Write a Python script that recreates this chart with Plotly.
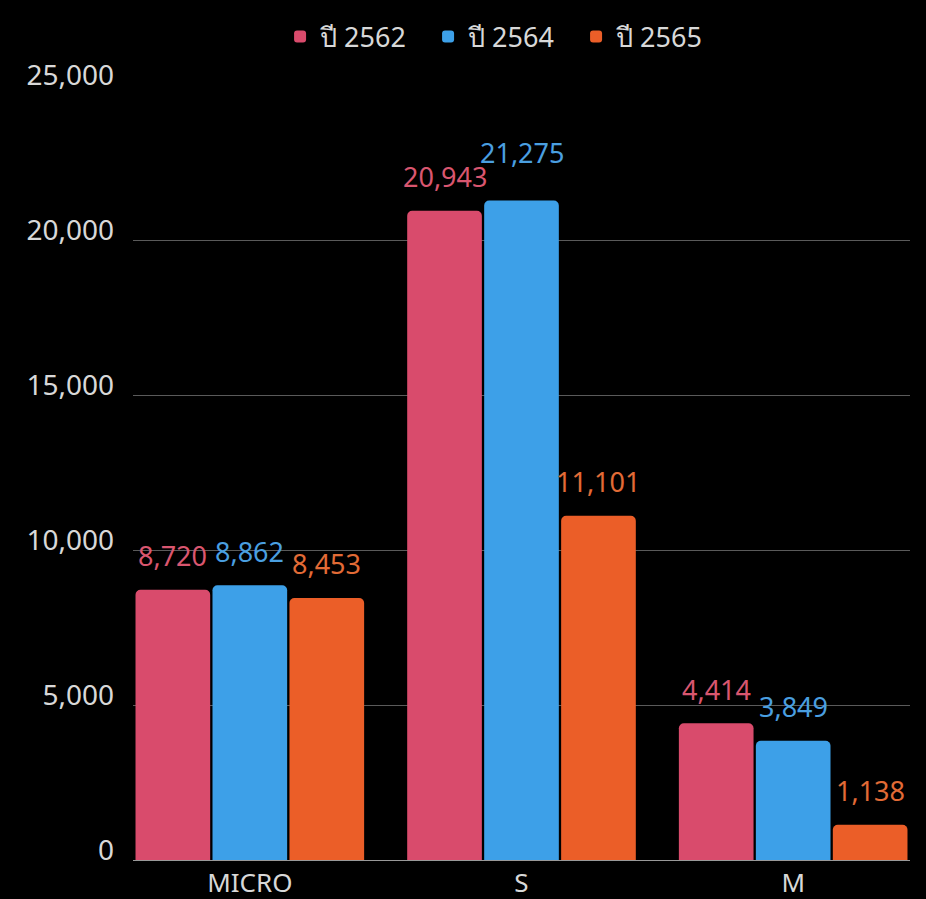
import plotly.graph_objects as go

categories = ["MICRO", "S", "M"]
series_names = ["ปี 2562", "ปี 2564", "ปี 2565"]
values_2562 = [8720, 20943, 4414]
values_2564 = [8862, 21275, 3849]
values_2565 = [8453, 11101, 1138]
tick_vals = [0, 5000, 10000, 15000, 20000, 25000]
tick_text = ["0", "5,000", "10,000", "15,000", "20,000", "25,000"]

bar_colors = ["#D94B6C", "#3DA0E8", "#EB5E28"]
label_colors = ["#D9566F", "#4A9FE0", "#E26B36"]
series = [values_2562, values_2564, values_2565]

FONT = "Noto Sans"
fig = go.Figure()
for name, vals, col in zip(series_names, series, bar_colors):
    fig.add_trace(go.Bar(
        x=categories, y=vals, name=name,
        marker=dict(color=col, line=dict(width=0)),
    ))

# Value labels above bars (a few nudged up to avoid collisions, as in the reference)
plot_left, plot_right = 133, 910
xr = [-0.43, 2.43]
px_per_unit = (plot_right - plot_left) / (xr[1] - xr[0])
bargap = 0.15
bar_w = (1 - bargap) / 3
label_nudge = {(1, "S"): 14}
for i, (vals, lc) in enumerate(zip(series, label_colors)):
    off = (i - 1) * bar_w * px_per_unit
    for c, v in zip(categories, vals):
        fig.add_annotation(
            x=c, y=v, text=f"{v:,}", showarrow=False,
            xshift=off, yshift=34 + label_nudge.get((i, c), 0), yanchor="middle",
            font=dict(family=FONT, size=27, color=lc),
        )

fig.update_layout(
    width=926, height=899,
    paper_bgcolor="black", plot_bgcolor="black",
    margin=dict(l=133, r=16, t=83, b=39),
    barmode="group", bargap=bargap, bargroupgap=0.03,
    barcornerradius=5,
    font=dict(family=FONT, color="#d8d8d8"),
    legend=dict(orientation="h", x=0.475, xanchor="center", y=1.062, yanchor="middle",
                font=dict(family=FONT, size=27, color="#d8d8d8"),
                bgcolor="rgba(0,0,0,0)", itemwidth=30,
                entrywidth=103, entrywidthmode="pixels"),
    xaxis=dict(range=xr, showgrid=False, showline=True, linecolor="#999999", linewidth=1,
               tickfont=dict(family=FONT, size=26, color="#d8d8d8"), ticks="",
               automargin=False, ticklabelstandoff=0),
    yaxis=dict(range=[0, 25000], tickvals=tick_vals, ticktext=tick_text,
               showgrid=True, gridcolor="#5a5a5a", gridwidth=1, zeroline=False,
               tickfont=dict(family=FONT, size=28, color="#d8d8d8"), ticks="",
               automargin=False, ticklabelshift=-10,
               ticklabelstandoff=18),
)
fig.write_html("out.html", config={"displayModeBar": False},
               post_script="document.body.style.margin='0';document.body.style.background='black';")
